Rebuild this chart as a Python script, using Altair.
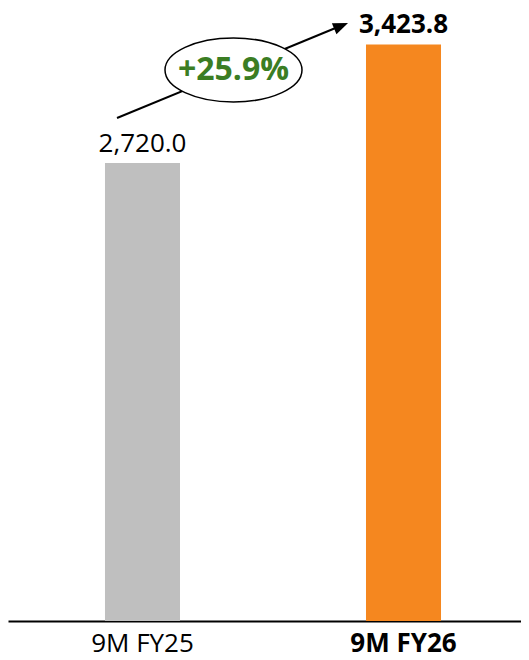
import altair as alt
import pandas as pd

categories = ["9M FY25", "9M FY26"]
values = [2720.0, 3423.8]
bar_colors = ["#BFBFBF", "#F5871F"]
label_weights = ["normal", "bold"]

growth = (values[1] / values[0] - 1) * 100
growth_label = f"+{growth:.1f}%"

df = pd.DataFrame({"cat": categories, "value": values, "color": bar_colors, "weight": label_weights})

W, H = 513, 613
FONT = "Open Sans"

x = alt.X(
    "cat:N",
    sort=categories,
    scale=alt.Scale(paddingInner=0.7126, paddingOuter=0.339, align=0.548),
    axis=alt.Axis(
        title=None, ticks=False, domainColor="#000000", domainWidth=2,
        labelFontSize=26, labelFont=FONT, labelColor="#000000", labelPadding=30,
        labelBaseline="alphabetic", labelAngle=0,
        labelFontWeight={"condition": {"test": "datum.value == '9M FY26'", "value": "bold"}, "value": "normal"},
    ),
)
y = alt.Y("value:Q", scale=alt.Scale(domain=[0, 3640], nice=False, zero=True), axis=None)

base = alt.Chart(df)
bars = base.mark_bar().encode(x=x, y=y, color=alt.Color("color:N", scale=None))

lab_normal = base.transform_filter("datum.weight == 'normal'").mark_text(
    font=FONT, fontSize=26, color="#000000", baseline="alphabetic", dy=-11
).encode(x=x, y=y, text=alt.Text("value:Q", format=",.1f"))
lab_bold = base.transform_filter("datum.weight == 'bold'").mark_text(
    font=FONT, fontSize=26, fontWeight="bold", color="#000000", baseline="alphabetic", dy=-11
).encode(x=x, y=y, text=alt.Text("value:Q", format=",.1f"))

ann = alt.Chart(pd.DataFrame({"g": [growth_label]}))
arrow_line = ann.mark_rule(strokeWidth=2, color="#000000").encode(
    x=alt.value(109), y=alt.value(110), x2=alt.value(336), y2=alt.value(16.5)
)
arrow_head = ann.mark_point(
    shape="M0,-1L0.8,1L-0.8,1Z", filled=True, color="#000000", size=225, angle=67.6, opacity=1
).encode(x=alt.value(333.1), y=alt.value(17.9))
ellipse = ann.mark_point(
    shape="M-1,0A1,0.467,0,1,1,1,0A1,0.467,0,1,1,-1,0Z",
    size=18769, fill="#FFFFFF", stroke="#000000", strokeWidth=1.5, opacity=1, fillOpacity=1, filled=True,
).encode(x=alt.value(225.5), y=alt.value(62))
growth_text = ann.mark_text(
    font=FONT, fontSize=32, fontWeight="bold", color="#3B7D23", align="center", baseline="alphabetic"
).encode(x=alt.value(225.5), y=alt.value(72), text="g:N")

chart = alt.layer(bars, lab_normal, lab_bold, arrow_line, arrow_head, ellipse, growth_text).properties(
    width=W, height=H,
    autosize=alt.AutoSizeParams(type="none"),
    padding={"left": 0, "top": 0, "right": 0, "bottom": 31},
).configure_view(stroke=None)

chart.save("out.html", embed_options={"renderer": "svg", "actions": False})
